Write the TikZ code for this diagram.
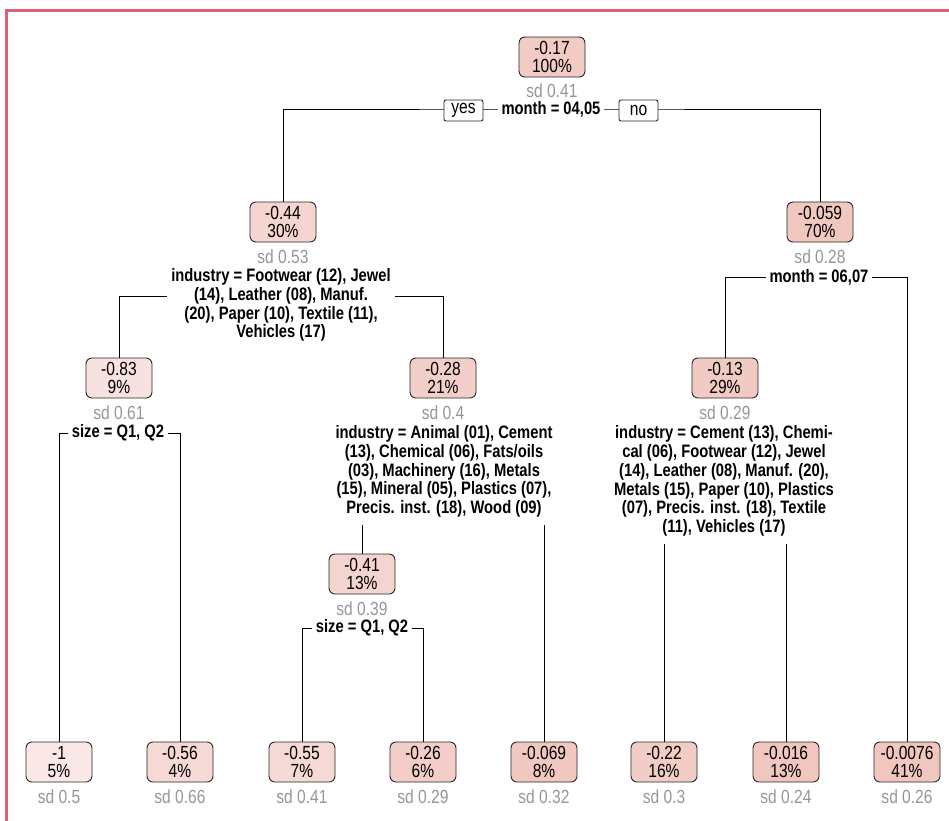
\documentclass[tikz,border=0pt]{standalone}
\usepackage{fontspec}
\setmainfont[FakeStretch=0.82]{Liberation Sans}
\usetikzlibrary{backgrounds}
\definecolor{lo}{RGB}{250,232,230}
\definecolor{hi}{RGB}{240,198,190}
\definecolor{sdgray}{RGB}{150,150,150}
\definecolor{framecol}{RGB}{222,95,115}
\begin{document}
\begin{tikzpicture}[x=1pt,y=-1pt,
 nbox/.style={draw=black!85, line width=0.9pt, rounded corners=6pt, minimum width=66pt, minimum height=40pt, inner sep=0pt, align=center, font=\fontsize{19}{18}\selectfont},
 sdlab/.style={text=sdgray, inner sep=0pt, font=\fontsize{19}{19}\selectfont},
 split/.style={fill=white, inner xsep=4pt, inner ysep=8pt, align=center, font=\fontsize{18}{18.75}\selectfont\bfseries},
 split1/.style={split, inner ysep=1pt},
 yn/.style={draw=black!85, fill=white, line width=0.9pt, rounded corners=2pt, minimum width=39pt, minimum height=21pt, inner sep=0pt, font=\fontsize{19}{19}\selectfont},
 branch/.style={line width=1pt, black},
 frameline/.style={draw=framecol, line width=2.2pt}]
\useasboundingbox (0,0) rectangle (949,820);
\path[frameline] (6.5,10.5) rectangle (1000,900);

% junction coordinates
\coordinate (jR) at (552,109);
\coordinate (jA) at (283,296);
\coordinate (jB) at (819,277);
\coordinate (jC) at (119,433);
\coordinate (jD) at (444,470);
\coordinate (jE) at (362,628);
\coordinate (jF) at (724,480);

% split labels
\node[split1] (lR) at (551,109.5) {month = 04,05};
\node[split] (lA) at (281,305) {industry = Footwear (12), Jewel\\(14), Leather (08), Manuf.\\(20), Paper (10), Textile (11),\\Vehicles (17)};
\node[split1] (lB) at (819,277) {month = 06,07};
\node[split1] (lC) at (118,433) {size = Q1, Q2};
\node[split] (lD) at (444,471.5) {industry = Animal (01), Cement\\(13), Chemical (06), Fats/oils\\(03), Machinery (16), Metals\\(15), Mineral (05), Plastics (07),\\Precis. inst. (18), Wood (09)};
\node[split1] (lE) at (362,628) {size = Q1, Q2};
\node[split] (lF) at (724,481) {industry = Cement (13), Chemi-\\cal (06), Footwear (12), Jewel\\(14), Leather (08), Manuf. (20),\\Metals (15), Paper (10), Plastics\\(07), Precis. inst. (18), Textile\\(11), Vehicles (17)};
\node[yn] (yes) at (463.5,110.5) {yes};
\node[yn] (no) at (638.5,110.5) {no};

% inner nodes
\node[nbox, fill=hi!84!lo] (R) at (552,57) {-0.17\\100\%};
\node[sdlab] (sdR) at (552,91) {sd 0.41};
\node[nbox, fill=hi!56!lo] (A) at (283,222) {-0.44\\30\%};
\node[sdlab] (sdA) at (283,257) {sd 0.53};
\node[nbox, fill=hi!95!lo] (B) at (820,222) {-0.059\\70\%};
\node[sdlab] (sdB) at (820,257) {sd 0.28};
\node[nbox, fill=hi!17!lo] (C) at (119,378) {-0.83\\9\%};
\node[sdlab] (sdC) at (119,413) {sd 0.61};
\node[nbox, fill=hi!73!lo] (D) at (443,378) {-0.28\\21\%};
\node[sdlab] (sdD) at (443,413) {sd 0.4};
\node[nbox, fill=hi!59!lo] (E) at (362,574) {-0.41\\13\%};
\node[sdlab] (sdE) at (362,609) {sd 0.39};
\node[nbox, fill=hi!88!lo] (F) at (725,378) {-0.13\\29\%};
\node[sdlab] (sdF) at (725,413) {sd 0.29};

% leaves
\node[nbox, fill=hi!0!lo] (L1) at (59,762) {-1\\5\%};
\node[sdlab] (sdL1) at (59,797) {sd 0.5};
\node[nbox, fill=hi!44!lo] (L2) at (180,762) {-0.56\\4\%};
\node[sdlab] (sdL2) at (180,797) {sd 0.66};
\node[nbox, fill=hi!45!lo] (L3) at (302,762) {-0.55\\7\%};
\node[sdlab] (sdL3) at (302,797) {sd 0.41};
\node[nbox, fill=hi!75!lo] (L4) at (423,762) {-0.26\\6\%};
\node[sdlab] (sdL4) at (423,797) {sd 0.29};
\node[nbox, fill=hi!94!lo] (L5) at (544,762) {-0.069\\8\%};
\node[sdlab] (sdL5) at (544,797) {sd 0.32};
\node[nbox, fill=hi!79!lo] (L6) at (664,762) {-0.22\\16\%};
\node[sdlab] (sdL6) at (664,797) {sd 0.3};
\node[nbox, fill=hi!99!lo] (L7) at (786,762) {-0.016\\13\%};
\node[sdlab] (sdL7) at (786,797) {sd 0.24};
\node[nbox, fill=hi!100!lo] (L8) at (907,762) {-0.0076\\41\%};
\node[sdlab] (sdL8) at (907,797) {sd 0.26};

% branches
\begin{pgfonlayer}{background}
\draw[branch] (A.north) |- (jR) -| (B.north);
\draw[branch] (C.north) |- (jA) -| (D.north);
\draw[branch] (F.north) |- (jB) -| (L8.north);
\draw[branch] (L1.north) |- (jC) -| (L2.north);
\draw[branch] (E.north) |- (jD) -| (L5.north);
\draw[branch] (L3.north) |- (jE) -| (L4.north);
\draw[branch] (L6.north) |- (jF) -| (L7.north);
\end{pgfonlayer}
\end{tikzpicture}
\end{document}
